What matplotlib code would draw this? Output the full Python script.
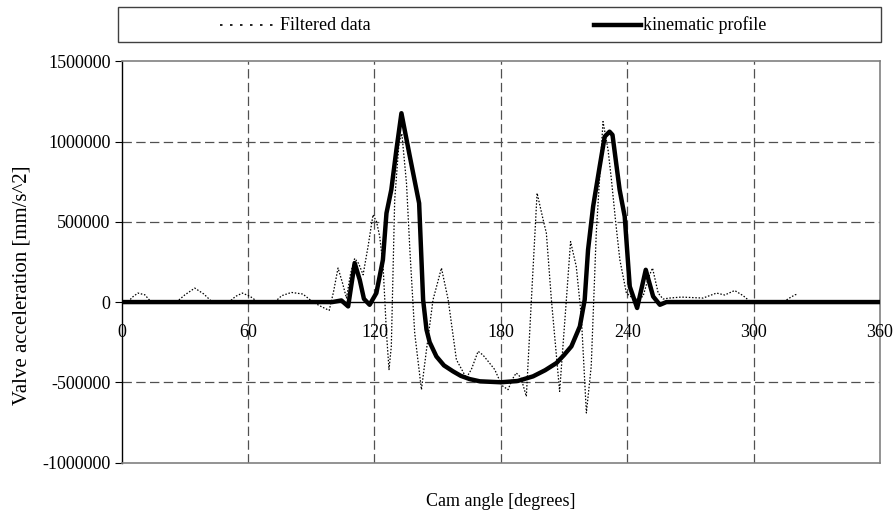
import numpy as np
import matplotlib as mpl
mpl.use('agg')
from matplotlib import pyplot as plt
from matplotlib.lines import Line2D
from matplotlib.patches import Rectangle
from matplotlib.transforms import offset_copy

# filtered (measured) valve acceleration, mm/s^2 against cam angle in degrees
filt_angle = [0, 3, 5, 7.7, 11, 14, 26, 30, 34.7, 39, 43, 51, 54, 57.3, 61, 64.7,
              72.6, 76, 80.6, 86, 90.8, 95, 98.5, 100.5, 102.7, 104.8, 106.7, 108.7,
              110.6, 112.5, 114.6, 117, 119.3, 121, 122.5, 124.1, 125.7, 126.9, 128,
              129.6, 131.7, 133, 135.2, 136.8, 139.1, 142.3, 144.7, 147.8, 151.8, 155,
              158.9, 163.6, 166, 169.2, 171.5, 174, 177.1, 180.5, 183.4, 185.5, 187.3,
              189.5, 192.1, 194.5, 197.2, 200.1, 201.6, 204, 207.9, 211.1, 213.1,
              215.8, 218.2, 220.6, 222.9, 225.3, 228.5, 230.9, 232.5, 234.5, 236.5,
              239.6, 243.6, 247.5, 250, 252, 254.7, 257, 260, 265.7, 276, 282.4,
              286.3, 291, 295, 298.2, 300, 314, 317, 319.6, 320.5]
filt_accel = [0, 0, 30000, 56000, 45000, 0, 0, 45000, 87000, 50000, 0, 0, 35000, 56000,
              35000, 0, 0, 40000, 60000, 50000, 0, -30000, -52000, 60000, 212000,
              120000, 25000, 180000, 272000, 240000, 170000, 350000, 544000, 500000,
              408000, 222000, -193000, -421000, -276000, 637000, 1000000, 1050000,
              741000, 326000, -193000, -546000, -297000, 14000, 212000, 14000,
              -359000, -473000, -420000, -307000, -330000, -370000, -421000, -520000,
              -546000, -480000, -442000, -470000, -588000, 14000, 679000, 512000,
              430000, 14000, -557000, 14000, 377000, 222000, -90000, -691000,
              -401000, 430000, 1125000, 948000, 762000, 500000, 263000, 56000, 14000,
              35000, 150000, 212000, 56000, 19000, 25000, 31000, 25000, 56000, 44000,
              72000, 40000, 5000, 0, 0, 25000, 45000, 48000]

# kinematic acceleration profile
kin_angle = [0, 100, 104.3, 107.5, 110.6, 113, 115, 117.7, 120.9, 124, 125.7, 128,
             130.4, 132.8, 136.8, 141.2, 143.1, 144.7, 146.2, 149.4, 153, 157.3, 161,
             165.2, 170, 180, 188, 195.3, 201, 206.4, 210, 213.5, 217.5, 219.8, 221.4,
             223.8, 226.9, 229.3, 231.6, 233, 236.4, 238.8, 241.2, 244.7, 248.8,
             252.3, 255.5, 258.6, 360]
kin_accel = [0, 0, 10000, -27000, 243000, 139000, 20000, -17000, 56000, 263000, 554000,
             700000, 948000, 1177000, 907000, 616000, 14000, -172000, -250000, -339000,
             -395000, -432000, -460000, -480000, -494000, -500000, -492000, -463000,
             -425000, -380000, -330000, -276000, -152000, 14000, 326000, 595000,
             844000, 1031000, 1062000, 1042000, 699000, 533000, 97000, -37000, 201000,
             35000, -17000, 0, 0]

x_ticks = [0, 60, 120, 180, 240, 300, 360]
y_ticks = [-1000000, -500000, 0, 500000, 1000000, 1500000]

plt.rcParams['font.family'] = 'Liberation Serif'
plt.rcParams['font.size'] = 13

W, H = 896, 512
fig = plt.figure(figsize=(W / 100, H / 100), dpi=100)
ax = fig.add_axes([121.7 / W, 1 - 462.5 / H, (880 - 121.7) / W, (462.5 - 61.4) / H])

grid_kw = dict(color='#505050', lw=0.9, linestyle=(0, (7.5, 3.5)), zorder=1)
for x in x_ticks[1:-1]:
    ax.axvline(x, **grid_kw)
for y in y_ticks[1:-1]:
    if y != 0:
        ax.axhline(y, **grid_kw)
ax.axhline(0, color='black', lw=1.0, zorder=2)

ax.plot(filt_angle, filt_accel, color='black', lw=0.9, linestyle=(0, (1.2, 1.4)), zorder=3)
ax.plot(kin_angle, kin_accel, color='black', lw=3.2, solid_joinstyle='round', zorder=4)

ax.set_xlim(0, 360)
ax.set_ylim(-1000000, 1500000)
ax.set_yticks(y_ticks)
ax.set_yticklabels(['%d' % v for v in y_ticks])
ax.tick_params(axis='y', direction='out', length=5, width=0.8, pad=3)
ax.set_xticks(x_ticks)
ax.tick_params(axis='x', length=0, labelbottom=False)

for side in ['top', 'right', 'bottom']:
    ax.spines[side].set_color('#808080')
    ax.spines[side].set_linewidth(1.2)
ax.spines['left'].set_color('black')
ax.spines['left'].set_linewidth(1.0)

# angle labels sit under the zero line rather than the bottom edge
lab_trans = offset_copy(ax.transData, fig=fig, x=0, y=-30, units='dots')
for x in x_ticks:
    ax.text(x, 0, '%d' % x, transform=lab_trans, ha='center', va='center', clip_on=False)

fig.text(501 / W, 1 - 501 / H, 'Cam angle [degrees]', ha='center', va='center')
fig.text(21.7 / W, 1 - 285 / H, 'Valve acceleration [mm/s^2]', ha='center', va='center',
         rotation=90, fontsize=15)

# legend box across the top
fig.add_artist(Rectangle((118 / W, 1 - 42 / H), 763 / W, 35 / H, transform=fig.transFigure,
                         fill=False, edgecolor='#404040', lw=1.0))
yc = 1 - 25 / H
fig.add_artist(Line2D([220 / W, 277 / W], [yc, yc], transform=fig.transFigure,
                      color='black', lw=1.2, linestyle=(0, (1.5, 4.5))))
fig.text(280 / W, yc, 'Filtered data', ha='left', va='center')
fig.add_artist(Line2D([594 / W, 641 / W], [yc, yc], transform=fig.transFigure,
                      color='black', lw=3.2))
fig.text(643 / W, yc, 'kinematic profile', ha='left', va='center')

plt.savefig('out.png', dpi=100)
